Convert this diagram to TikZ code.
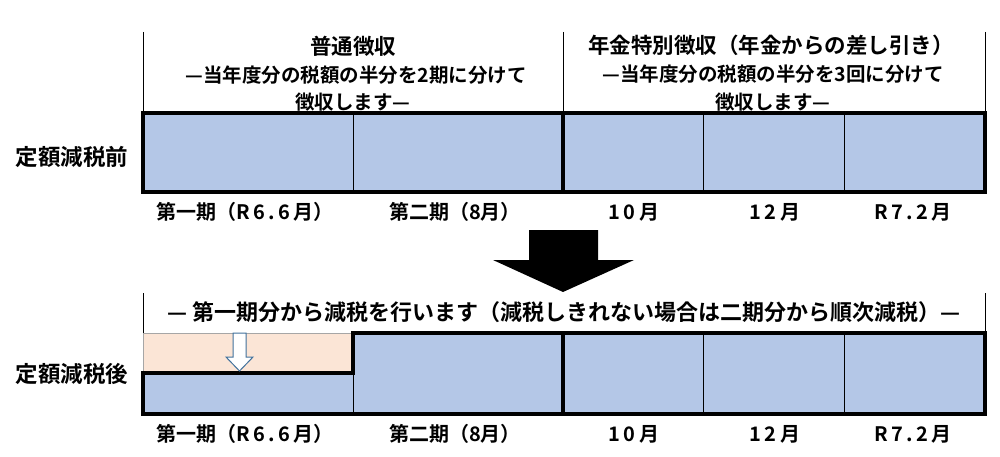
\documentclass[tikz,border=0pt]{standalone}
\usepackage{fontspec}
\newfontfamily\jp{Noto Sans CJK JP Bold}
\definecolor{cellblue}{HTML}{B4C7E7}
\definecolor{cellorange}{HTML}{FBE5D6}
\definecolor{arrowedge}{HTML}{41719C}
\begin{document}
\begin{tikzpicture}[x=1pt,y=-1pt,
  thick border/.style={line width=4pt,line join=miter},
  thin div/.style={line width=1pt},
  guide/.style={line width=1pt},
  lbl/.style={font=\jp\fontsize{20}{22}\selectfont,inner sep=0pt},
  ttl/.style={font=\jp\fontsize{21.5}{23}\selectfont,inner sep=0pt},
  btl/.style={font=\jp\fontsize{22}{24}\selectfont,inner sep=0pt},
  sub/.style={font=\jp\fontsize{19.5}{21}\selectfont,inner sep=0pt},
  side/.style={font=\jp\fontsize{22.5}{24}\selectfont,inner sep=0pt}]
\useasboundingbox (0,0) rectangle (1000,457);
% ---------- top panel ----------
\coordinate (tA) at (143,32); \coordinate (tA2) at (143,113);
\coordinate (tB) at (563,32); \coordinate (tB2) at (563,113);
\coordinate (tC) at (985,32); \coordinate (tC2) at (985,113);
\draw[guide] (tA) -- (tA2);
\draw[guide] (tB) -- (tB2);
\draw[guide] (tC) -- (tC2);
\fill[cellblue] (143,113) rectangle (985,192);
\coordinate (d1t) at (353,113); \coordinate (d1b) at (353,192);
\coordinate (d3t) at (703,113); \coordinate (d3b) at (703,192);
\coordinate (d4t) at (844,113); \coordinate (d4b) at (844,192);
\coordinate (d2t) at (563,113); \coordinate (d2b) at (563,192);
\draw[thin div] (d1t) -- (d1b);
\draw[thin div] (d3t) -- (d3b);
\draw[thin div] (d4t) -- (d4b);
\draw[thick border] (d2t) -- (d2b);
\draw[thick border] (143,113) rectangle (985,192);
\node[ttl] (t1) at (353,46) {普通徴収};
\node[sub] (t1a) at (356,75) {—当年度分の税額の半分を2期に分けて};
\node[sub] (t1b) at (353,102) {徴収します—};
\node[ttl] (t2) at (771,45) {年金特別徴収（年金からの差し引き）};
\node[sub] (t2a) at (773,74) {—当年度分の税額の半分を3回に分けて};
\node[sub] (t2b) at (773,102) {徴収します—};
\node[side] (s1) at (72,157) {定額減税前};
\node[lbl] (l1) at (245,212) {第一期（R\,6\,.\,6\,月）};
\node[lbl] (l2) at (455,212) {第二期（8月）};
\node[lbl] (l3) at (634,212) {1\,0\,月};
\node[lbl] (l4) at (775,212) {1\,2\,月};
\node[lbl] (l5) at (913,212) {R\,7\,.\,2\,月};
% ---------- big arrow ----------
\fill[black] (529,230) -- (598,230) -- (598,260) -- (634,260) -- (563,292)
  -- (493,260) -- (529,260) -- cycle;
% ---------- bottom panel ----------
\coordinate (bA) at (143,293); \coordinate (bA2) at (143,333);
\coordinate (bC) at (985,293); \coordinate (bC2) at (985,333);
\draw[guide] (bA) -- (bA2);
\draw[guide] (bC) -- (bC2);
\node[btl] (bt) at (564,312) {— 第一期分から減税を行います（減税しきれない場合は二期分から順次減税）—};
\filldraw[fill=cellorange,draw=gray!70,line width=0.8pt] (143,333) rectangle (353,373);
\fill[cellblue] (143,373) -- (353,373) -- (353,333) -- (985,333) -- (985,414) -- (143,414) -- cycle;
\coordinate (e1t) at (353,373); \coordinate (e1b) at (353,414);
\coordinate (e3t) at (703,333); \coordinate (e3b) at (703,414);
\coordinate (e4t) at (844,333); \coordinate (e4b) at (844,414);
\coordinate (e2t) at (563,333); \coordinate (e2b) at (563,414);
\draw[thin div] (e1t) -- (e1b);
\draw[thin div] (e3t) -- (e3b);
\draw[thin div] (e4t) -- (e4b);
\draw[thick border] (e2t) -- (e2b);
\draw[thick border] (143,373) -- (353,373) -- (353,333) -- (985,333) -- (985,414) -- (143,414) -- cycle;
\filldraw[fill=white,draw=arrowedge,line width=1pt,line join=miter]
  (233,333) -- (246,333) -- (246,357) -- (253,357) -- (239.5,371) -- (226,357) -- (233,357) -- cycle;
\node[side] (s2) at (72,374) {定額減税後};
\node[lbl] (m1) at (245,434) {第一期（R\,6\,.\,6\,月）};
\node[lbl] (m2) at (455,434) {第二期（8月）};
\node[lbl] (m3) at (634,434) {1\,0\,月};
\node[lbl] (m4) at (775,434) {1\,2\,月};
\node[lbl] (m5) at (913,434) {R\,7\,.\,2\,月};
\end{tikzpicture}
\end{document}
